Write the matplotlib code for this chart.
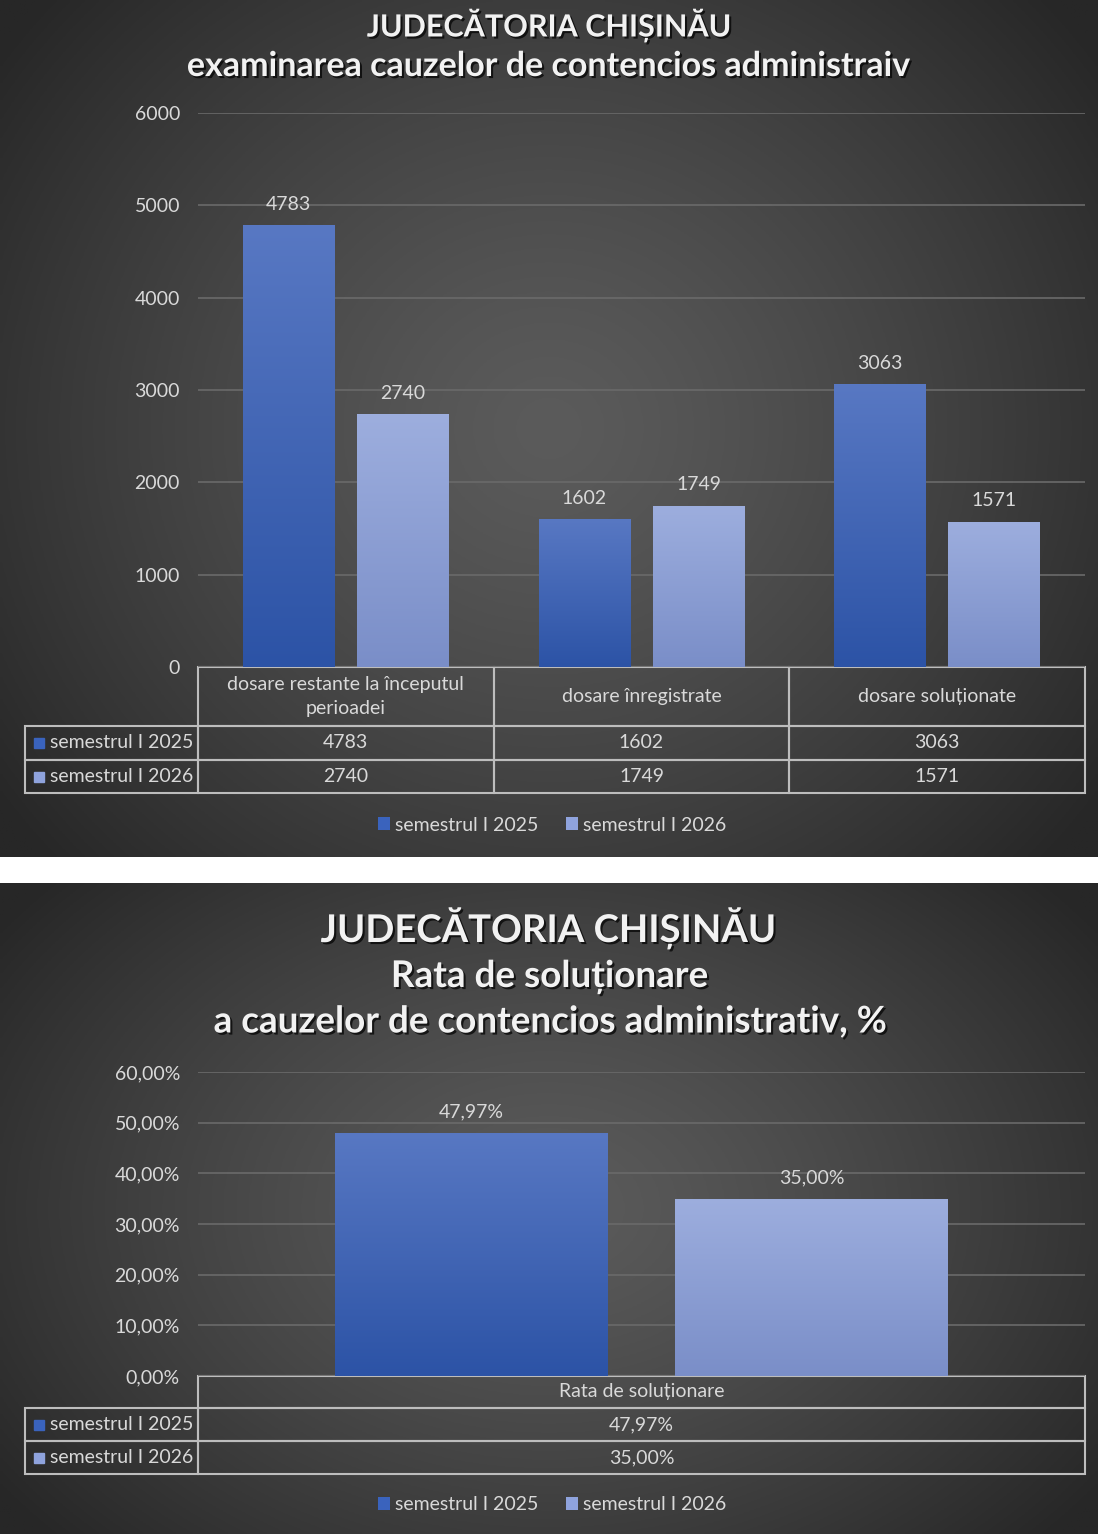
import textwrap
import numpy as np
import matplotlib
matplotlib.use("Agg")
import matplotlib.pyplot as plt
import matplotlib.patheffects as pe
from matplotlib.ticker import FuncFormatter, MultipleLocator

# ---------------- data ----------------
series = ["semestrul I 2025", "semestrul I 2026"]
categories_top = ["dosare restante la începutul perioadei", "dosare înregistrate", "dosare soluționate"]
values_2025_top = [4783, 1602, 3063]
values_2026_top = [2740, 1749, 1571]

categories_bottom = ["Rata de soluționare"]
values_2025_bottom = [0.4797]
values_2026_bottom = [0.3500]

title_top = ["JUDECĂTORIA CHIȘINĂU", "examinarea cauzelor de contencios administraiv"]
title_bottom = ["JUDECĂTORIA CHIȘINĂU", "Rata de soluționare", "a cauzelor de contencios administrativ, %"]

# ---------------- style ----------------
plt.rcParams['font.family'] = ['Lato', 'DejaVu Sans']
TXT = '#d9d9d9'
GRID = '#6a6a6a'
EDGE = '#bdbdbd'
LEG_COLORS = ['#3a63bd', '#8fa3dd']
GRAD = [('#5878c3', '#2c53a6'), ('#9daede', '#7a8ec8')]
FS = 14

W, H = 1098, 1534
fig = plt.figure(figsize=(W / 100, H / 100), dpi=100, facecolor='white')


def px(x0, y0, x1, y1):
    """pixel box (top-left origin) -> figure rect"""
    return [x0 / W, 1 - y1 / H, (x1 - x0) / W, (y1 - y0) / H]


def background(rect, cy=0.55):
    bg = fig.add_axes(rect, zorder=-10)
    ny, nx = 300, 300
    yy, xx = np.mgrid[0:1:ny * 1j, 0:1:nx * 1j]
    r = np.sqrt(((xx - 0.5) / 0.62) ** 2 + ((yy - cy) / 0.75) ** 2)
    r = np.clip(r, 0, 1)
    c_in = np.array([0x5b, 0x5b, 0x5b]) / 255
    c_out = np.array([0x27, 0x27, 0x27]) / 255
    t = r[..., None] ** 1.3
    img = c_in * (1 - t) + c_out * t
    bg.imshow(img, extent=[0, 1, 0, 1], aspect='auto', origin='upper')
    bg.set_axis_off()


def hex2rgb(h):
    h = h.lstrip('#')
    return np.array([int(h[i:i + 2], 16) / 255 for i in (0, 2, 4)])


def gradient_bars(ax, bars, top_c, bot_c):
    ct, cb = hex2rgb(top_c), hex2rgb(bot_c)
    t = np.linspace(0, 1, 200)[:, None]
    arr = (ct * (1 - t) + cb * t)[:, None, :]
    for b in bars:
        x, y = b.get_x(), b.get_y()
        w, h = b.get_width(), b.get_height()
        im = ax.imshow(arr, extent=[x, x + w, y, y + h], aspect='auto',
                       origin='upper', zorder=2.5)
        im.set_clip_path(b)


shadow = [pe.withSimplePatchShadow(offset=(1.5, -1.5), shadow_rgbFace='black', alpha=0.7)]


def make_chart(ax, cats, v1, v2, ylim, ystep, fmt, label_fmt, offs, width,
               ax_w, ax_h, row_h, rowlab_w, leg_y, wrap=28):
    n = len(cats)
    x = np.arange(n)
    b1 = ax.bar(x - offs, v1, width, color=LEG_COLORS[0], label=series[0], zorder=2)
    b2 = ax.bar(x + offs, v2, width, color=LEG_COLORS[1], label=series[1], zorder=2)
    gradient_bars(ax, b1, *GRAD[0])
    gradient_bars(ax, b2, *GRAD[1])
    ax.set_xlim(-0.5, n - 0.5)
    ax.set_ylim(0, ylim)
    ax.yaxis.set_major_locator(MultipleLocator(ystep))
    ax.yaxis.set_major_formatter(FuncFormatter(fmt))
    ax.set_xticks([])
    ax.tick_params(axis='y', length=0, pad=13, labelcolor=TXT, labelsize=FS)
    for s in ax.spines.values():
        s.set_visible(False)
    ax.grid(axis='y', color=GRID, lw=1.2, zorder=0)
    ax.set_axisbelow(True)
    ax.set_facecolor('none')
    for b in (b1, b2):
        ax.bar_label(b, labels=[label_fmt(v) for v in b.datavalues], padding=9,
                     color=TXT, fontsize=FS, zorder=3)

    # table (sizes in axes fraction)
    heights = [h / ax_h for h in row_h]
    tab_h = sum(heights)
    cell_text = [[label_fmt(v) for v in v1], [label_fmt(v) for v in v2]]
    col_labels = [textwrap.fill(c, wrap) for c in cats]
    tab = ax.table(cellText=cell_text, rowLabels=series, colLabels=col_labels,
                   cellLoc='center', rowLoc='left', bbox=[0, -tab_h, 1, tab_h])
    tab._autoColumns = []
    tab.auto_set_font_size(False)
    tab.set_fontsize(FS)
    for (r, c), cell in tab.get_celld().items():
        cell.set_edgecolor(EDGE)
        cell.set_facecolor('none')
        cell.set_linewidth(1.5)
        cell.get_text().set_color(TXT)
        cell.get_text().set_linespacing(1.5)
        cell.set_height(heights[r])
        if c == -1:
            cell.set_width(rowlab_w / ax_w)
            cell.PAD = 0.145
        else:
            cell.set_width(1.0 / n)
    # legend key squares in row labels
    acc = heights[0]
    for i in range(2):
        yc = -(acc + heights[i + 1] / 2)
        acc += heights[i + 1]
        ax.plot([-(rowlab_w - 14) / ax_w], [yc], marker='s',
                ms=7.5, color=LEG_COLORS[i], transform=ax.transAxes, clip_on=False, lw=0)

    leg = fig.legend(handles=[b1, b2], loc='center', bbox_to_anchor=(0.503, leg_y), ncol=2,
                     frameon=False, fontsize=FS, handlelength=0.6, handleheight=0.6,
                     handletextpad=0.3, columnspacing=1.4)
    for t in leg.get_texts():
        t.set_color(TXT)
    return tab


# ---------------- top panel ----------------
background(px(0, 0, 1098, 857), cy=0.5)
fig.text(0.5, 1 - 25 / H, title_top[0], ha='center', va='center', color='#f2f2f2',
         fontsize=22, fontweight='bold', path_effects=shadow)
fig.text(0.5, 1 - 66 / H, title_top[1], ha='center', va='center', color='#f2f2f2',
         fontsize=24.5, fontweight='bold', path_effects=shadow)

ax1 = fig.add_axes(px(198, 113, 1085, 667))
make_chart(ax1, categories_top, values_2025_top, values_2026_top, 6000, 1000,
           lambda v, p: f"{int(v)}", lambda v: f"{int(v)}",
           offs=0.193, width=0.31, ax_w=887, ax_h=667 - 113,
           row_h=[59, 34, 33], rowlab_w=173, leg_y=1 - 825 / H)

# ---------------- bottom panel ----------------
background(px(0, 883, 1098, 1534), cy=0.5)
fig.text(0.5, 1 - 928 / H, title_bottom[0], ha='center', va='center', color='#f2f2f2',
         fontsize=27.5, fontweight='bold', path_effects=shadow)
fig.text(0.5, 1 - 977 / H, title_bottom[1], ha='center', va='center', color='#f2f2f2',
         fontsize=26.5, fontweight='bold', path_effects=shadow)
fig.text(0.5, 1 - 1022 / H, title_bottom[2], ha='center', va='center', color='#f2f2f2',
         fontsize=26.5, fontweight='bold', path_effects=shadow)

ax2 = fig.add_axes(px(198, 1072, 1085, 1376))


def pct(v, p=None):
    return f"{v * 100:.2f}%".replace('.', ',')


make_chart(ax2, categories_bottom, values_2025_bottom, values_2026_bottom, 0.6, 0.1,
           pct, pct, offs=0.1917, width=0.307, ax_w=887, ax_h=1376 - 1072,
           row_h=[32, 33, 33], rowlab_w=173, leg_y=1 - 1505 / H, wrap=40)

fig.savefig('out.png', dpi=100, facecolor='white')
